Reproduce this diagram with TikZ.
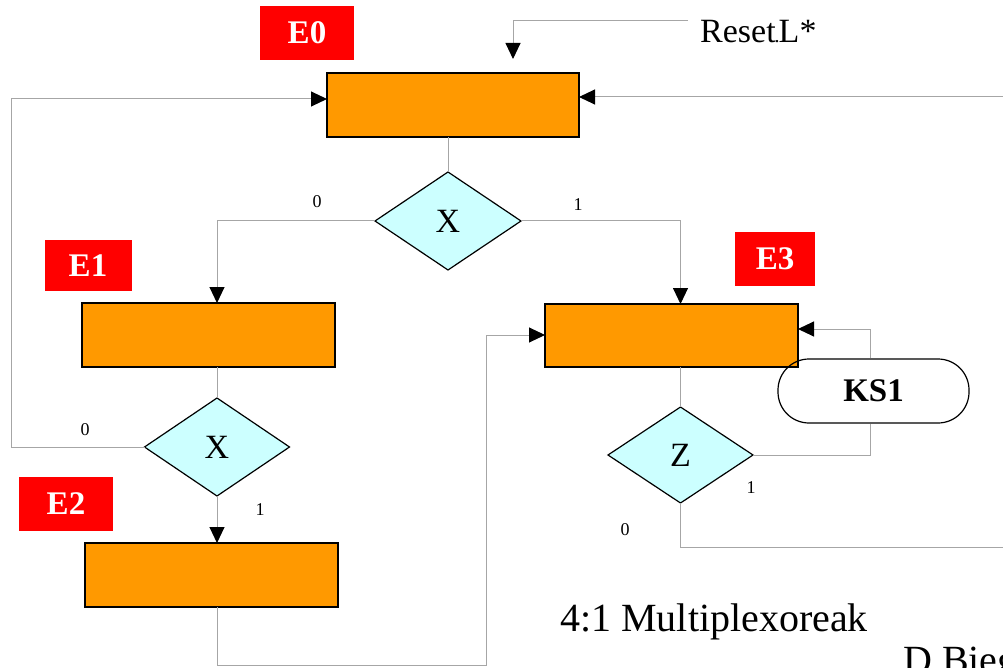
\documentclass[tikz,border=0pt]{standalone}
\usepackage{fontspec}
\setmainfont{Liberation Serif}
\usetikzlibrary{arrows.meta,shapes.geometric,calc}
\definecolor{boxorange}{HTML}{FF9900}
\definecolor{decision}{HTML}{CCFFFF}
\definecolor{tagred}{HTML}{FF0000}
\definecolor{wire}{HTML}{A6A6A6}

\tikzset{
  state/.style={draw=black,line width=1.8pt,fill=boxorange,rectangle,
    minimum width=252pt,minimum height=63pt,inner sep=0pt,outer sep=0pt},
  test/.style={draw=black,line width=1.2pt,fill=decision,diamond,
    minimum width=146pt,minimum height=98pt,inner sep=0pt,outer sep=0pt,
    font=\fontsize{34}{34}\selectfont},
  tag/.style={fill=tagred,text=white,inner sep=0pt,
    font=\bfseries\fontsize{33}{33}\selectfont},
  term/.style={draw=black,line width=1.2pt,rounded corners=31pt,
    minimum width=191pt,minimum height=64pt,inner sep=0pt,
    font=\bfseries\fontsize{33}{33}\selectfont},
  conn/.style={draw=wire,line width=1pt},
  arr/.style={-{Triangle[length=16pt,width=15pt,color=black]}},
  bit/.style={inner sep=0pt,font=\fontsize{18}{18}\selectfont},
}

\begin{document}
\begin{tikzpicture}[x=1pt,y=-1pt]
\useasboundingbox (0,0) rectangle (1003,668);

% state labels
\node[tag,minimum width=94pt,minimum height=54pt] (t0) at (307,33) {E0};
\node[tag,minimum width=87pt,minimum height=50pt] (t1) at (88,265.5) {E1};
\node[tag,minimum width=94pt,minimum height=54pt] (t2) at (66,504) {E2};
\node[tag,minimum width=80pt,minimum height=54pt] (t3) at (775,259) {E3};

% state boxes
\node[state,minimum height=64pt] (e0) at (453,105) {};
\node[state,minimum width=253pt,minimum height=64pt] (e1) at (208.5,335) {};
\node[state,minimum width=253pt,minimum height=64pt] (e2) at (211.5,575) {};
\node[state,minimum width=253pt] (e3) at (671.5,335.5) {};

% decisions
\node[test] (x1) at (448,221) {X};
\node[test,minimum width=145pt] (x2) at (217,447) {X};
\node[test,minimum width=145pt,minimum height=96pt] (z) at (680.5,455) {Z};

% output
\node[term] (ks) at (873.5,391) {KS1};

% reset input
\node[anchor=base west,inner sep=0pt,font=\fontsize{34}{34}\selectfont] (reset)
  at (700,43) {Reset\kern-1pt{\fontsize{20}{20}\selectfont.}\kern-1pt L*};
\coordinate (rs) at (688,21);
\coordinate (rt) at (513,59);
\draw[conn,arr] (rs) -| (rt);

% E0 -> X
\draw[conn] (x1.north |- e0.south) -- (x1.north);
\draw[conn,arr] (x1.west) -| (e1.north -| x2.north);
\draw[conn,arr] (x1.east) -| (e3.north -| z.north);

% E1 -> X
\draw[conn] (x2.north |- e1.south) -- (x2.north);
\coordinate (lp) at (11,99);
\draw[conn,arr] (x2.west) -| (lp) -- (lp -| e0.west);
\draw[conn,arr] (x2.south) -- (x2.south |- e2.north);

% E2 -> E3
\coordinate (b1) at (486,665);
\coordinate (b2) at (486,335);
\draw[conn,arr] (x2.south |- e2.south) |- (b1) -- (b2) -- (b2 -| e3.west);

% E3 -> Z
\draw[conn] (z.north |- e3.south) -- (z.north);
\coordinate (kc) at (870,329);
\draw[conn] (z.east) -| (kc |- ks.south);
\draw[conn,arr] (kc |- ks.north) -- (kc) -- (kc -| e3.east);
\coordinate (zr) at (1003,547);
\draw[conn] (z.south) |- (zr);
\coordinate (er) at (1003,97);
\draw[conn,arr] (er) -- (er -| e0.east);

% branch values
\node[bit] (b0a) at (317,202) {0};
\node[bit] (b1a) at (578,205) {1};
\node[bit] (b0b) at (85,430) {0};
\node[bit] (b1b) at (260,510) {1};
\node[bit] (b1c) at (751,488) {1};
\node[bit] (b0c) at (625,530) {0};

% captions
\node[anchor=base west,inner sep=0pt,font=\fontsize{40}{40}\selectfont] (title)
  at (560,631) {4:1 Multiplexoreak};
\begin{scope}
  \clip (0,0) rectangle (1003,668);
  \node[anchor=base west,inner sep=0pt,font=\fontsize{40}{40}\selectfont] (author)
    at (903,673) {D Bieg};
\end{scope}
\end{tikzpicture}
\end{document}
